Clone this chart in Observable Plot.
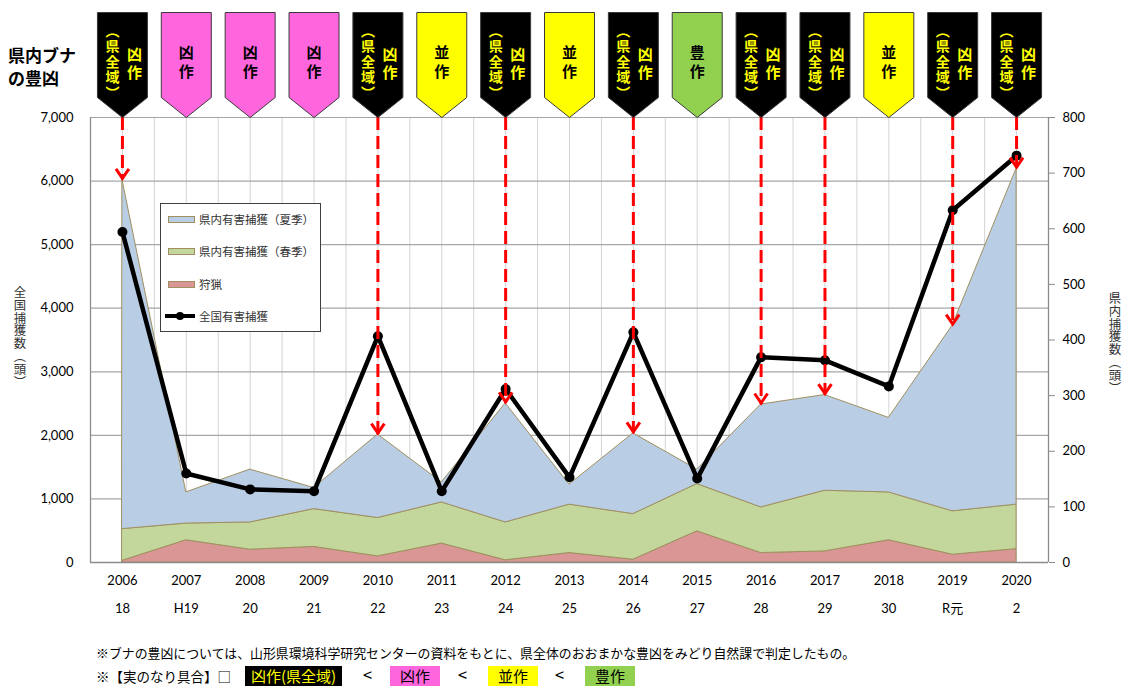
<!DOCTYPE html>
<html><head><meta charset="utf-8">
<script src="https://cdn.jsdelivr.net/npm/d3@7"></script>
<script src="https://cdn.jsdelivr.net/npm/@observablehq/plot@0.6"></script>
<style>
body{margin:0;background:#fff;font-family:"Noto Sans CJK JP",sans-serif;}
#wrap{position:relative;width:1127px;height:686px;overflow:hidden;background:#fff;}
#chart{position:absolute;left:0;top:0;}
.abs{position:absolute;white-space:nowrap;}
#title{left:8px;top:43px;font-size:17px;font-weight:bold;line-height:23px;color:#000;}
.vt{writing-mode:vertical-rl;font-size:12.4px;letter-spacing:0.4px;line-height:16px;color:#333;}
#legend{left:160px;top:203px;width:159px;height:127px;border:1px solid #404040;background:#fff;}
.lrow{position:absolute;left:0;height:16px;font-size:11.5px;line-height:16px;color:#333;}
.sw{position:absolute;left:7px;top:5px;width:25px;height:5px;border:1px solid #a09060;}
.lt{position:absolute;left:38px;top:0;}
.note{font-size:12.9px;color:#000;line-height:16px;}
.box{height:20px;line-height:20px;text-align:center;font-size:15px;}
.lt2{font-size:13px;line-height:14px;height:14px;color:#000;transform:scale(1.25,1.35);transform-origin:center;}
</style></head><body>
<div id="wrap">
  <div id="chart"></div>
  <div id="title" class="abs">県内ブナ<br>の豊凶</div>
  <div id="ltitle" class="abs vt" style="left:12px;top:286px;"></div>
  <div id="rtitle" class="abs vt" style="left:1107px;top:292px;"></div>
  <div id="legend" class="abs"></div>
  <div class="abs note" style="left:96px;top:645px;">※ブナの豊凶については、山形県環境科学研究センターの資料をもとに、県全体のおおまかな豊凶をみどり自然課で判定したもの。</div>
  <div class="abs note" style="left:96px;top:668px;font-size:13.5px;">※【実のなり具合】□</div>
  <div class="abs box" style="left:245px;top:666px;width:97px;background:#000;color:#FFFF00;">凶作(県全域)</div>
  <div class="abs lt2" style="left:364px;top:668px;">&lt;</div>
  <div class="abs box" style="left:390px;top:666px;width:50px;background:#FF66DD;color:#000;">凶作</div>
  <div class="abs lt2" style="left:459px;top:668px;">&lt;</div>
  <div class="abs box" style="left:488px;top:666px;width:50px;background:#FFFF00;color:#000;">並作</div>
  <div class="abs lt2" style="left:556px;top:668px;">&lt;</div>
  <div class="abs box" style="left:585px;top:666px;width:50px;background:#92D050;color:#000;">豊作</div>
</div>
<script>
// ---- data ----
const years = ["2006","2007","2008","2009","2010","2011","2012","2013","2014","2015","2016","2017","2018","2019","2020"];
const eras = ["18","H19","20","21","22","23","24","25","26","27","28","29","30","R元","2"];
// 県内 (right axis, 頭)
const hunting = [3, 40, 23, 28, 11, 34, 4, 17, 5, 56, 17, 20, 40, 14, 24];       // 狩猟
const spring  = [57, 30, 49, 68, 69, 74, 68, 87, 82, 85, 82, 109, 86, 78, 80];  // 県内有害捕獲（春季）
const summer  = [628, 56, 95, 38, 150, 36, 214, 36, 145, 26, 185, 172, 134, 334, 604]; // 県内有害捕獲（夏季）
// 全国 (left axis, 頭)
const national = [5200, 1400, 1150, 1120, 3560, 1120, 2730, 1340, 3620, 1320, 3230, 3180, 2770, 5540, 6400];
// ブナの豊凶
const mast = ["凶作(県全域)","凶作","凶作","凶作","凶作(県全域)","並作","凶作(県全域)","並作","凶作(県全域)","豊作","凶作(県全域)","凶作(県全域)","並作","凶作(県全域)","凶作(県全域)"];
const mastColors = {"凶作(県全域)":"#000000","凶作":"#FF66DD","並作":"#FFFF00","豊作":"#92D050"};
const seriesNames = ["狩猟","県内有害捕獲（春季）","県内有害捕獲（夏季）"];
const seriesColors = ["#D99694","#C3D69B","#B9CDE5"];
const leftTicks = [0,1000,2000,3000,4000,5000,6000,7000];
const rightTicks = [0,100,200,300,400,500,600,700,800];
const leftTitle = "全国捕獲数（頭）";
const rightTitle = "県内捕獲数（頭）";

// ---- derived ----
const K = 7000 / 800; // right-axis units -> left-axis units
const idx = years.map((_, i) => i);
const stack = [];
idx.forEach(i => {
  [hunting, spring, summer].forEach((arr, s) => stack.push({x: i, v: arr[i] * K, series: seriesNames[s], fill: seriesColors[s]}));
});
const topVal = i => hunting[i] + spring[i] + summer[i];
const worst = idx.filter(i => mast[i] === "凶作(県全域)");
const other = idx.filter(i => mast[i] !== "凶作(県全域)");
const natData = idx.map(i => ({x: i, y: national[i]}));

const bannerSymbol = {draw(ctx){ ctx.moveTo(-25,-105); ctx.lineTo(25,-105); ctx.lineTo(25,-20); ctx.lineTo(0,0); ctx.lineTo(-25,-20); ctx.closePath(); }};
const chevron = {draw(ctx){ ctx.moveTo(-6.5,-11); ctx.lineTo(0,-1.5); ctx.lineTo(6.5,-11); }};
const halfTicks = d3.range(-0.5, 14.51, 0.5);
const bannerFont = "'Noto Sans CJK JP'";

const plot = Plot.plot({
  width: 1127, height: 630,
  marginLeft: 90, marginRight: 79, marginTop: 117, marginBottom: 68,
  style: {fontFamily: "Lato, 'Noto Sans CJK JP', sans-serif", fontSize: "13px", color: "#000", background: "transparent", overflow: "visible"},
  x: {type: "linear", domain: [-0.5, 14.5], axis: null},
  y: {domain: [0, 7000], axis: null},
  color: {type: "identity"},
  marks: [
    Plot.ruleX(halfTicks, {stroke: "#d4d4d4", strokeWidth: 1}),
    Plot.ruleY(leftTicks.slice(1), {stroke: "#a6a6a6", strokeWidth: 1.2}),
    Plot.areaY(stack, {x: "x", y: "v", z: "series", fill: "fill", stroke: "#a09060", strokeWidth: 1, curve: "linear"}),
    Plot.ruleX([-0.5, 14.5], {stroke: "#8c8c8c", strokeWidth: 1.3}),
    Plot.ruleY([0], {stroke: "#8c8c8c", strokeWidth: 1.3}),
    Plot.axisY({ticks: leftTicks, tickFormat: d3.format(","), tickSize: 0, tickPadding: 17, anchor: "left", label: null}),
    Plot.axisY({ticks: rightTicks.map(v => v * K), tickFormat: d => String(Math.round(d / K)), tickSize: 6, tickPadding: 8, anchor: "right", label: null, stroke: "#8c8c8c"}),
    Plot.axisX({ticks: idx, tickFormat: i => years[i], tickSize: 0, tickPadding: 13, label: null}),
    Plot.axisX({ticks: idx, tickFormat: i => eras[i], tickSize: 0, tickPadding: 41, label: null}),
    Plot.line(natData, {x: "x", y: "y", stroke: "#000", strokeWidth: 4.5}),
    Plot.dot(natData, {x: "x", y: "y", r: 5, fill: "#000"}),
    Plot.ruleX(worst, {x: i => i, y1: 7000, y2: i => topVal(i) * K, stroke: "#FF0000", strokeWidth: 3, strokeDasharray: "13,6"}),
    Plot.dot(worst, {x: i => i, y: i => topVal(i) * K, symbol: chevron, fill: "none", stroke: "#FF0000", strokeWidth: 3, r: 6}),
    // banners
    Plot.dot(idx, {x: i => i, y: () => 7000, symbol: bannerSymbol, r: 10, fill: i => mastColors[mast[i]], stroke: "#3a3a3a", strokeWidth: 1}),
    Plot.text(other, {x: i => i, y: () => 7000, text: i => mast[i], dy: -59, fontSize: 15, fontWeight: "bold", fill: "#000", fontFamily: bannerFont}),
    Plot.text(worst, {x: i => i, y: () => 7000, text: i => "（" + mast[i].slice(3, 6) + "）", dx: -10, dy: -60, fontSize: 14, fontWeight: "bold", fill: "#FFFF00", fontFamily: bannerFont}),
    Plot.text(worst, {x: i => i, y: () => 7000, text: i => mast[i].slice(0, 2), dx: 12, dy: -58, fontSize: 15, fontWeight: "bold", fill: "#FFFF00", fontFamily: bannerFont})
  ]
});
document.getElementById("chart").appendChild(plot);

// banner labels are written vertically (縦書き)
const spacing = {"（県全域）": "1.5px", "凶作": null, "並作": "4px", "豊作": "4px"};
d3.select(plot).selectAll("text").each(function() {
  const t = this.textContent;
  if (!(t in spacing)) return;
  const el = d3.select(this);
  el.attr("dy", null).style("writing-mode", "vertical-rl").attr("text-anchor", "middle");
  const isRight = el.attr("fill") === "#FFFF00" || (this.parentNode && d3.select(this.parentNode).attr("fill") === "#FFFF00");
  el.style("letter-spacing", t === "凶作" ? (isRight ? "3px" : "4px") : spacing[t]);
});

// vertical axis titles
document.getElementById("ltitle").textContent = leftTitle;
document.getElementById("rtitle").textContent = rightTitle;

// legend (HTML overlay)
const legend = document.getElementById("legend");
const legItems = [
  {label: seriesNames[2], color: seriesColors[2], top: 7},
  {label: seriesNames[1], color: seriesColors[1], top: 39},
  {label: seriesNames[0], color: seriesColors[0], top: 72},
];
legItems.forEach(d => {
  const row = document.createElement("div");
  row.className = "lrow"; row.style.top = d.top + "px"; row.style.width = "159px";
  row.innerHTML = `<div class="sw" style="background:${d.color}"></div><div class="lt">${d.label}</div>`;
  legend.appendChild(row);
});
const row = document.createElement("div");
row.className = "lrow"; row.style.top = "104px"; row.style.width = "159px";
row.innerHTML = `<div style="position:absolute;left:4px;top:6px;width:30px;height:4px;background:#000"></div><div style="position:absolute;left:15px;top:4px;width:8px;height:8px;border-radius:50%;background:#000"></div><div class="lt">全国有害捕獲</div>`;
legend.appendChild(row);
</script>
</body></html>
